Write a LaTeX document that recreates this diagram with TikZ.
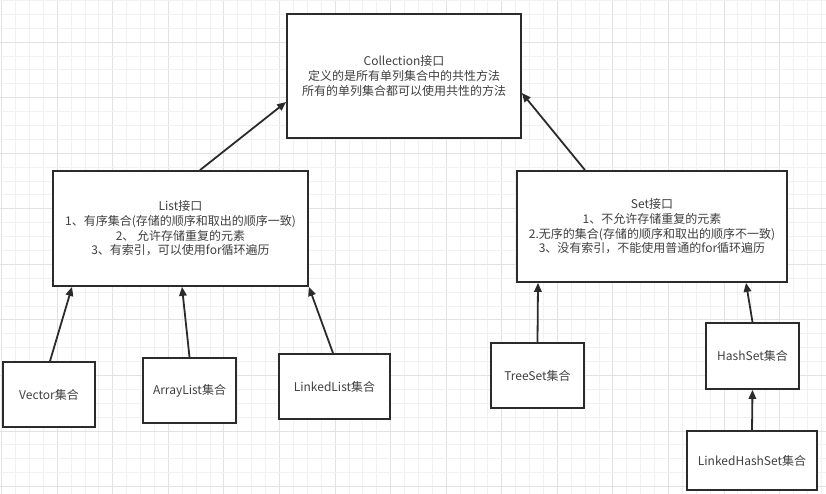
\documentclass[tikz,border=0pt]{standalone}
\usepackage{fontspec}
\setmainfont{Noto Sans CJK SC}
\usetikzlibrary{arrows.meta}
\definecolor{gridminor}{HTML}{F1F1F1}
\definecolor{gridmajor}{HTML}{E2E2E2}
\definecolor{boxline}{HTML}{2B2B2B}
\definecolor{txt}{HTML}{404040}
\tikzset{
  box/.style={draw=boxline, line width=1.8pt, fill=white, rectangle, inner sep=0pt,
    align=center, text=txt, font=\fontsize{12pt}{14.6pt}\selectfont},
  arr/.style={draw=boxline, line width=1.8pt, -{Triangle[length=9pt,width=7.5pt]}},
  minorline/.style={draw=gridminor, line width=0.9pt},
  majorline/.style={draw=gridmajor, line width=0.9pt}
}
\begin{document}
\begin{tikzpicture}[x=1pt,y=1pt]
\useasboundingbox (0,0) rectangle (826,-494);
\fill[white] (0,0) rectangle (826,-494);
% grid
\foreach \k in {0,...,59} {
  \pgfmathtruncatemacro{\m}{mod(\k,4)}
  \ifnum\m=0\relax
    \draw[majorline] ({1.7+13.89*\k},0) -- ({1.7+13.89*\k},-494);
  \else
    \draw[minorline] ({1.7+13.89*\k},0) -- ({1.7+13.89*\k},-494);
  \fi
}
\foreach \k in {0,...,35} {
  \pgfmathtruncatemacro{\m}{mod(\k,4)}
  \ifnum\m=3\relax
    \draw[majorline] (0,{-0.4-13.89*\k}) -- (826,{-0.4-13.89*\k});
  \else
    \draw[minorline] (0,{-0.4-13.89*\k}) -- (826,{-0.4-13.89*\k});
  \fi
}
% nodes
\node[box, minimum width=234pt, minimum height=124pt] (coll) at (404,-76)
  {Collection接口\\定义的是所有单列集合中的共性方法\\所有的单列集合都可以使用共性的方法};
\node[box, minimum width=255pt, minimum height=115pt] (list) at (180.5,-228.5)
  {List接口\\1、有序集合(存储的顺序和取出的顺序一致)\\2、 允许存储重复的元素\\3、有索引，可以使用for循环遍历};
\node[box, minimum width=270pt, minimum height=111pt] (set) at (652,-226.5)
  {Set接口\\1、不允许存储重复的元素\\2.无序的集合(存储的顺序和取出的顺序不一致)\\3、没有索引，不能使用普通的for循环遍历};
\node[box, minimum width=92pt, minimum height=65pt] (vec) at (49,-394.5) {Vector集合};
\node[box, minimum width=93pt, minimum height=65pt] (al) at (189.5,-390.5) {ArrayList集合};
\node[box, minimum width=111pt, minimum height=65pt] (ll) at (334.5,-386.5) {LinkedList集合};
\node[box, minimum width=93pt, minimum height=65pt] (ts) at (537.5,-375.5) {TreeSet集合};
\node[box, minimum width=93pt, minimum height=66pt] (hs) at (752.5,-356) {HashSet集合};
\node[box, minimum width=130pt, minimum height=59pt] (lhs) at (752,-460.5) {LinkedHashSet集合};
% connectors
\draw[arr] ([xshift=19.5pt]list.north) -- ([yshift=-26pt]coll.west);
\draw[arr] ([xshift=-67pt]set.north) -- ([yshift=-17pt]coll.east);
\draw[arr] ([xshift=1pt]vec.north) -- ([xshift=-108.5pt]list.south);
\draw[arr] (al.north) -- ([xshift=1.5pt]list.south);
\draw[arr] ([xshift=-1.5pt]ll.north) -- (list.south east);
\draw[arr] (ts.north) -- ([xshift=-114pt]set.south);
\draw[arr] (hs.north) -- ([xshift=94pt]set.south);
\draw[arr] (lhs.north) -- (hs.south);
\end{tikzpicture}
\end{document}
